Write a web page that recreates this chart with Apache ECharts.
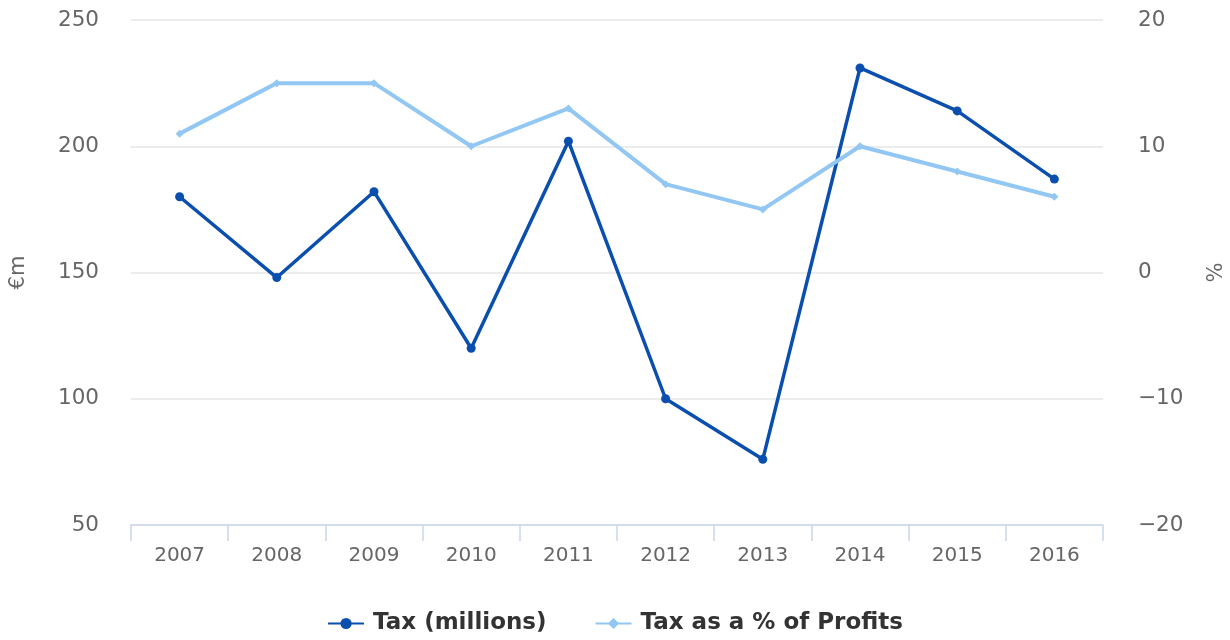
<!DOCTYPE html>
<html><head><meta charset="utf-8">
<script src="https://cdn.jsdelivr.net/npm/echarts@6/dist/echarts.min.js"></script>
<style>html,body{margin:0;padding:0;background:#fff}#c{width:1230px;height:640px}</style>
</head><body><div id="c"></div>
<script>
const years = ['2007','2008','2009','2010','2011','2012','2013','2014','2015','2016'];
const taxMillions = [180, 148, 182, 120, 202, 100, 76, 231, 214, 187];
const taxPctProfits = [11, 15, 15, 10, 13, 7, 5, 10, 8, 6];

const chart = echarts.init(document.getElementById('c'));
const font = '"DejaVu Sans", Verdana, sans-serif';
chart.setOption({
  animation: false,
  grid: { left: 130, right: 120, top: 20, bottom: 115 },
  legend: {
    bottom: 0, left: 'center', itemGap: 48, itemWidth: 36, itemHeight: 14,
    textStyle: { fontFamily: font, fontSize: 23, fontWeight: 'bold', color: '#333', padding: [0, 0, 0, 4] }
  },
  xAxis: {
    type: 'category', data: years, boundaryGap: true,
    axisLine: { onZero: false, lineStyle: { color: '#ccd6eb', width: 1.5 } },
    axisTick: { show: true, length: 16, lineStyle: { color: '#ccd6eb', width: 1.5 } },
    axisLabel: { fontFamily: font, fontSize: 20, color: '#666', margin: 21 }
  },
  yAxis: [{
    type: 'value', min: 50, max: 250, interval: 50, name: '€m',
    nameLocation: 'middle', nameGap: 102, nameRotate: 90,
    nameTextStyle: { fontFamily: font, fontSize: 21, color: '#666' },
    axisLabel: { fontFamily: font, fontSize: 21.5, color: '#666', margin: 32 },
    splitLine: { lineStyle: { color: '#e6e6e6', width: 1.5 } },
    axisLine: { show: false }, axisTick: { show: false }
  }, {
    type: 'value', min: -20, max: 20, interval: 10, name: '%',
    nameLocation: 'middle', nameGap: 98, nameRotate: -90,
    nameTextStyle: { fontFamily: font, fontSize: 21, color: '#666' },
    axisLabel: { fontFamily: font, fontSize: 21.5, color: '#666', margin: 35,
      formatter: v => String(v).replace('-', '\u2212') },
    splitLine: { show: false }, axisLine: { show: false }, axisTick: { show: false }
  }],
  series: [{
    name: 'Tax (millions)', type: 'line', yAxisIndex: 0, data: taxMillions,
    symbol: 'circle', symbolSize: 9,
    lineStyle: { color: '#0b4fae', width: 3.5 }, itemStyle: { color: '#0b4fae' }
  }, {
    name: 'Tax as a % of Profits', type: 'line', yAxisIndex: 1, data: taxPctProfits,
    symbol: 'diamond', symbolSize: 8,
    lineStyle: { color: '#92c7f4', width: 4 }, itemStyle: { color: '#92c7f4' }
  }]
});
</script></body></html>
